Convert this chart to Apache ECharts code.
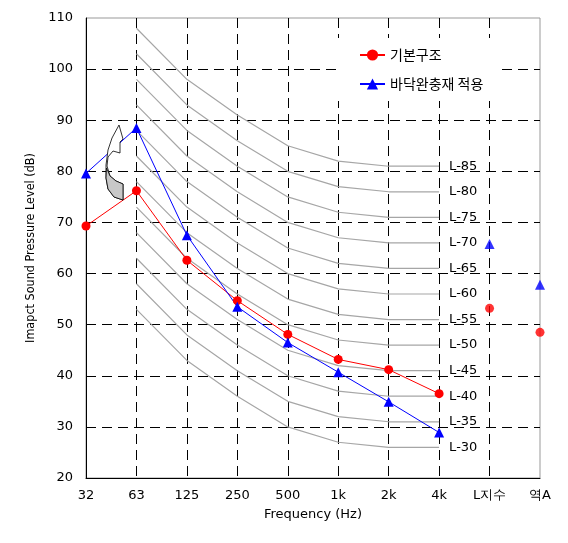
<!DOCTYPE html>
<html>
<head>
<meta charset="utf-8">
<script src="https://cdn.jsdelivr.net/npm/echarts@6/dist/echarts.min.js"></script>
<style>html,body{margin:0;padding:0;background:#fff}#c{width:568px;height:543px}</style>
</head>
<body>
<div id="c"></div>
<script>
const categories = ['32', '63', '125', '250', '500', '1k', '2k', '4k', 'L지수', '역A'];
const yTicks = [20, 30, 40, 50, 60, 70, 80, 90, 100, 110];
const baseName = '기본구조';
const baseValues = [69.3, 76.2, 62.6, 54.7, 48.1, 43.2, 41.2, 36.5];
const baseIndex = [53.2, 48.5];   // L지수, 역A
const matName = '바닥완충재 적용';
const matValues = [79.6, 88.5, 67.5, 53.5, 46.5, 40.7, 34.9, 28.9];
const matIndex = [65.8, 57.8];    // L지수, 역A
// reference L-curves, values at 63 .. 4k
const lNames = ['L-85', 'L-80', 'L-75', 'L-70', 'L-65', 'L-60', 'L-55', 'L-50', 'L-45', 'L-40', 'L-35', 'L-30'];
const lCurves = [
  [108, 98, 91, 85, 82, 81, 81],
  [103, 93, 86, 80, 77, 76, 76],
  [98, 88, 81, 75, 72, 71, 71],
  [93, 83, 76, 70, 67, 66, 66],
  [88, 78, 71, 65, 62, 61, 61],
  [83, 73, 66, 60, 57, 56, 56],
  [78, 68, 61, 55, 52, 51, 51],
  [73, 63, 56, 50, 47, 46, 46],
  [68, 58, 51, 45, 42, 41, 41],
  [63, 53, 46, 40, 37, 36, 36],
  [58, 48, 41, 35, 32, 31, 31],
  [53, 43, 36, 30, 27, 26, 26]
];

const chart = echarts.init(document.getElementById('c'));
const FONT = 'DejaVu Sans';
const series = [];
lCurves.forEach((vals, i) => {
  series.push({
    type: 'line', name: lNames[i], data: [null].concat(vals),
    symbol: 'none', silent: true, z: 1,
    lineStyle: { color: '#a6a6a6', width: 1.2 },
    endLabel: { show: true, formatter: lNames[i], distance: 10, color: '#000', fontSize: 13, fontFamily: FONT }
  });
});
const padIdx = (arr) => Array(8).fill(null).concat(arr);
series.push({
  type: 'line', name: baseName, data: baseValues, symbol: 'circle', symbolSize: 9, z: 5,
  itemStyle: { color: '#ff0000' }, lineStyle: { color: '#ff0000', width: 1 }
});
series.push({
  type: 'line', name: matName, data: matValues, symbol: 'triangle', symbolSize: 10, z: 5,
  itemStyle: { color: '#0000ff' }, lineStyle: { color: '#0000ff', width: 1 }
});
series.push({
  type: 'scatter', name: baseName, data: padIdx(baseIndex), symbol: 'circle', symbolSize: 9, z: 5,
  itemStyle: { color: '#ff0000' }
});
series.push({
  type: 'scatter', name: matName, data: padIdx(matIndex), symbol: 'triangle', symbolSize: 10, z: 5,
  itemStyle: { color: '#0000ff' }
});

const dash = { color: '#000', type: [10, 6], dashOffset: 0, width: 1 };

chart.setOption({
  animation: false,
  backgroundColor: '#fff',
  grid: { left: 86, top: 18, right: 28, bottom: 65, show: true, borderColor: '#999', borderWidth: 1 },
  legend: {
    data: [baseName, matName], orient: 'vertical', left: 337, top: 38,
    itemGap: 15, itemWidth: 25, itemHeight: 14, backgroundColor: '#fff',
    padding: [10, 18, 10, 22],
    textStyle: { fontSize: 14, fontFamily: 'Noto Sans CJK KR', color: '#000' }
  },
  xAxis: {
    type: 'category', data: categories, boundaryGap: false,
    name: 'Frequency (Hz)', nameLocation: 'middle', nameGap: 30,
    nameTextStyle: { fontSize: 13, fontFamily: FONT, color: '#000' },
    axisLine: { lineStyle: { color: '#000', width: 1 } },
    axisTick: { show: false },
    axisLabel: { margin: 11, fontSize: 13, fontFamily: FONT, color: '#000', interval: 0 },
    splitLine: { show: true, interval: (idx) => idx > 0 && idx < categories.length - 1, lineStyle: dash }
  },
  yAxis: {
    type: 'value', min: yTicks[0], max: yTicks[yTicks.length - 1], interval: 10,
    name: 'Imapct Sound Pressure Level (dB)', nameLocation: 'middle', nameGap: 48,
    nameTextStyle: { fontSize: 12.5, fontFamily: 'DejaVu Sans Condensed, Liberation Sans', color: '#000' },
    axisLine: { show: true, lineStyle: { color: '#000', width: 1 } },
    axisTick: { show: false },
    axisLabel: { margin: 13, fontSize: 13, fontFamily: FONT, color: '#000' },
    splitLine: { show: true, showMinLine: false, showMaxLine: false, lineStyle: dash }
  },
  graphic: [
    { type: 'polygon', z: 100,
      shape: { points: [[123,200],[114,197],[108,189],[106,178],[106,165],[108,150],[112,138],[119,125],[123,139],[120,142],[120,153],[113,151],[108,157],[107,166],[110,176],[116,181],[123,184]] },
      style: { fill: '#fff', stroke: '#000', lineWidth: 0.8 } },
    { type: 'polygon', z: 101,
      shape: { points: [[123,200],[114,197],[108,189],[106,178],[106.5,168],[110,176],[116,181],[123,184]] },
      style: { fill: '#c8c8c8', stroke: '#000', lineWidth: 0.8 } }
  ],
  series: series
});
</script>
</body>
</html>
